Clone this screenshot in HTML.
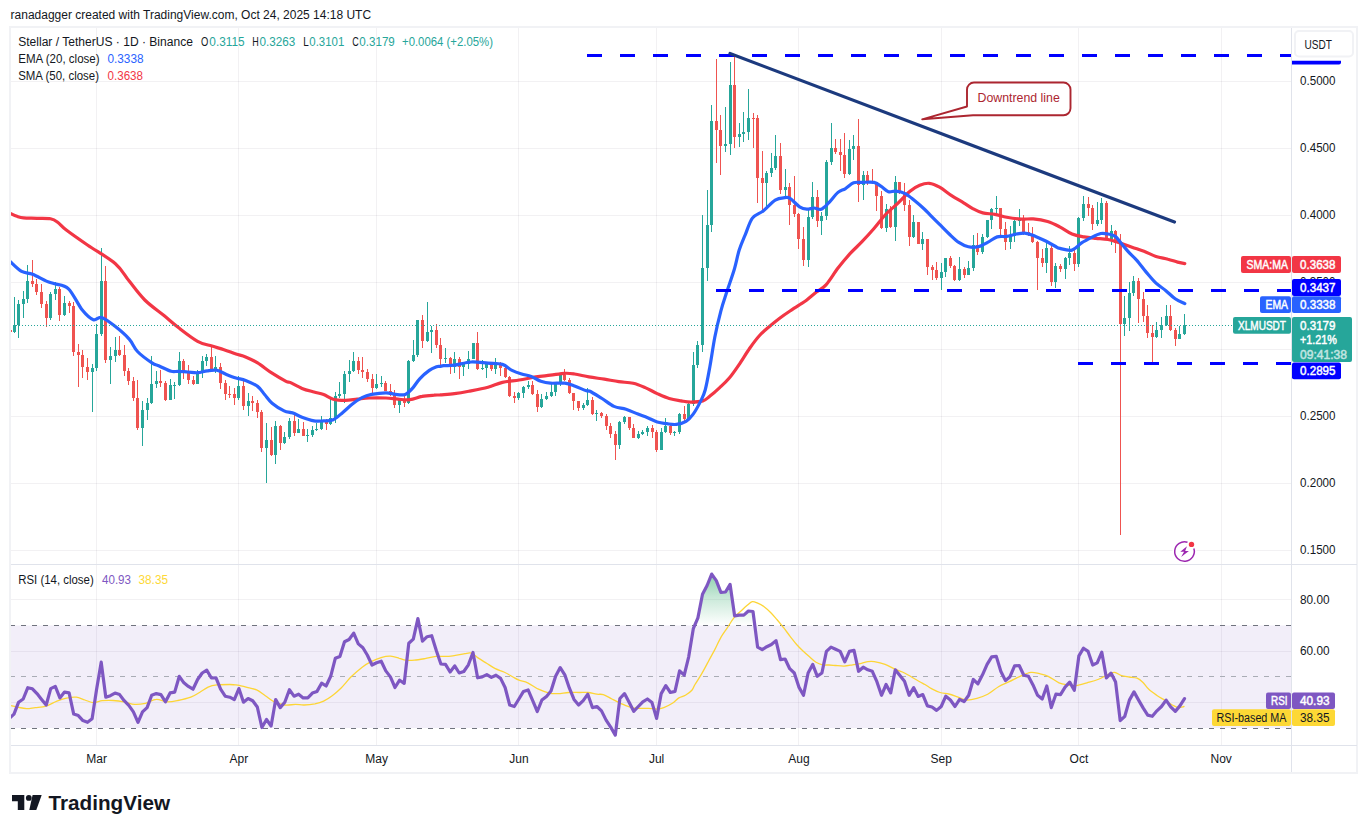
<!DOCTYPE html><html><head><meta charset="utf-8"><title>XLMUSDT</title><style>html,body{margin:0;padding:0;background:#fff}svg{display:block}text{font-family:"Liberation Sans",sans-serif}</style></head><body>
<svg width="1367" height="833" viewBox="0 0 1367 833">
<rect width="1367" height="833" fill="#fff"/>
<g stroke="#3c3250" stroke-opacity="0.065" stroke-width="1" shape-rendering="crispEdges">
<line x1="96.5" y1="28" x2="96.5" y2="745"/>
<line x1="238.5" y1="28" x2="238.5" y2="745"/>
<line x1="376.5" y1="28" x2="376.5" y2="745"/>
<line x1="518.5" y1="28" x2="518.5" y2="745"/>
<line x1="656.5" y1="28" x2="656.5" y2="745"/>
<line x1="798.5" y1="28" x2="798.5" y2="745"/>
<line x1="941.5" y1="28" x2="941.5" y2="745"/>
<line x1="1078.5" y1="28" x2="1078.5" y2="745"/>
<line x1="1221.5" y1="28" x2="1221.5" y2="745"/>
<line x1="11" y1="81.5" x2="1291" y2="81.5"/>
<line x1="11" y1="148.5" x2="1291" y2="148.5"/>
<line x1="11" y1="215.5" x2="1291" y2="215.5"/>
<line x1="11" y1="282.5" x2="1291" y2="282.5"/>
<line x1="11" y1="349.5" x2="1291" y2="349.5"/>
<line x1="11" y1="416.5" x2="1291" y2="416.5"/>
<line x1="11" y1="483.5" x2="1291" y2="483.5"/>
<line x1="11" y1="550.5" x2="1291" y2="550.5"/>
<line x1="11" y1="599.5" x2="1291" y2="599.5"/>
<line x1="11" y1="651.5" x2="1291" y2="651.5"/>
<line x1="11" y1="702.5" x2="1291" y2="702.5"/>
</g>
<rect x="11" y="625.5" width="1280.5" height="102.5" fill="#7e57c2" fill-opacity="0.1"/>
<g stroke-width="1" stroke-dasharray="5 6" stroke-dashoffset="1.2" shape-rendering="crispEdges">
<line x1="11" y1="625.5" x2="1291" y2="625.5" stroke="#70737e"/>
<line x1="11" y1="676.5" x2="1291" y2="676.5" stroke="#a9acb5"/>
<line x1="11" y1="728.5" x2="1291" y2="728.5" stroke="#70737e"/>
</g>
<g stroke="#e0e3eb" stroke-width="1" fill="none" shape-rendering="crispEdges">
<rect x="10" y="27" width="1347" height="746" stroke="#f1f2f5" stroke-width="2"/>
<line x1="11" y1="564.5" x2="1357" y2="564.5"/>
<line x1="11" y1="745.5" x2="1357" y2="745.5"/>
<line x1="1291.5" y1="28" x2="1291.5" y2="772"/>
</g>
<defs><clipPath id="mp"><rect x="11" y="28" width="1280.5" height="536"/></clipPath><clipPath id="rp"><rect x="11" y="565" width="1280.5" height="180"/></clipPath></defs>
<g clip-path="url(#mp)" shape-rendering="crispEdges">
<rect x="14" y="297" width="1" height="36" fill="#26a69a"/>
<rect x="13" y="325" width="3" height="7" fill="#26a69a"/>
<rect x="18" y="300" width="1" height="38" fill="#26a69a"/>
<rect x="17" y="304" width="3" height="21" fill="#26a69a"/>
<rect x="23" y="291" width="1" height="27" fill="#26a69a"/>
<rect x="22" y="299" width="3" height="5" fill="#26a69a"/>
<rect x="27" y="265" width="1" height="38" fill="#26a69a"/>
<rect x="26" y="281" width="3" height="18" fill="#26a69a"/>
<rect x="32" y="260" width="1" height="27" fill="#ef5350"/>
<rect x="31" y="281" width="3" height="3" fill="#ef5350"/>
<rect x="36" y="279" width="1" height="16" fill="#ef5350"/>
<rect x="35" y="284" width="3" height="8" fill="#ef5350"/>
<rect x="41" y="284" width="1" height="24" fill="#ef5350"/>
<rect x="40" y="292" width="3" height="12" fill="#ef5350"/>
<rect x="46" y="301" width="1" height="26" fill="#ef5350"/>
<rect x="45" y="304" width="3" height="14" fill="#ef5350"/>
<rect x="50" y="292" width="1" height="28" fill="#26a69a"/>
<rect x="49" y="294" width="3" height="24" fill="#26a69a"/>
<rect x="55" y="282" width="1" height="18" fill="#26a69a"/>
<rect x="54" y="289" width="3" height="5" fill="#26a69a"/>
<rect x="59" y="287" width="1" height="34" fill="#ef5350"/>
<rect x="58" y="289" width="3" height="26" fill="#ef5350"/>
<rect x="64" y="296" width="1" height="20" fill="#26a69a"/>
<rect x="63" y="303" width="3" height="12" fill="#26a69a"/>
<rect x="69" y="301" width="1" height="12" fill="#ef5350"/>
<rect x="68" y="303" width="3" height="3" fill="#ef5350"/>
<rect x="73" y="302" width="1" height="54" fill="#ef5350"/>
<rect x="72" y="306" width="3" height="46" fill="#ef5350"/>
<rect x="78" y="344" width="1" height="43" fill="#ef5350"/>
<rect x="77" y="352" width="3" height="3" fill="#ef5350"/>
<rect x="82" y="350" width="1" height="28" fill="#ef5350"/>
<rect x="81" y="355" width="3" height="12" fill="#ef5350"/>
<rect x="87" y="358" width="1" height="22" fill="#ef5350"/>
<rect x="86" y="367" width="3" height="5" fill="#ef5350"/>
<rect x="92" y="364" width="1" height="48" fill="#26a69a"/>
<rect x="91" y="368" width="3" height="4" fill="#26a69a"/>
<rect x="96" y="324" width="1" height="47" fill="#26a69a"/>
<rect x="95" y="334" width="3" height="34" fill="#26a69a"/>
<rect x="101" y="248" width="1" height="88" fill="#26a69a"/>
<rect x="100" y="281" width="3" height="53" fill="#26a69a"/>
<rect x="105" y="266" width="1" height="97" fill="#ef5350"/>
<rect x="104" y="281" width="3" height="79" fill="#ef5350"/>
<rect x="110" y="347" width="1" height="37" fill="#26a69a"/>
<rect x="109" y="356" width="3" height="4" fill="#26a69a"/>
<rect x="115" y="337" width="1" height="25" fill="#26a69a"/>
<rect x="114" y="350" width="3" height="6" fill="#26a69a"/>
<rect x="119" y="336" width="1" height="20" fill="#ef5350"/>
<rect x="118" y="350" width="3" height="5" fill="#ef5350"/>
<rect x="124" y="345" width="1" height="31" fill="#ef5350"/>
<rect x="123" y="355" width="3" height="16" fill="#ef5350"/>
<rect x="128" y="368" width="1" height="17" fill="#ef5350"/>
<rect x="127" y="371" width="3" height="10" fill="#ef5350"/>
<rect x="133" y="377" width="1" height="24" fill="#ef5350"/>
<rect x="132" y="381" width="3" height="17" fill="#ef5350"/>
<rect x="137" y="380" width="1" height="50" fill="#ef5350"/>
<rect x="136" y="398" width="3" height="30" fill="#ef5350"/>
<rect x="142" y="401" width="1" height="45" fill="#26a69a"/>
<rect x="141" y="410" width="3" height="18" fill="#26a69a"/>
<rect x="147" y="398" width="1" height="22" fill="#26a69a"/>
<rect x="146" y="403" width="3" height="7" fill="#26a69a"/>
<rect x="151" y="356" width="1" height="48" fill="#26a69a"/>
<rect x="150" y="384" width="3" height="19" fill="#26a69a"/>
<rect x="156" y="371" width="1" height="17" fill="#26a69a"/>
<rect x="155" y="381" width="3" height="3" fill="#26a69a"/>
<rect x="160" y="370" width="1" height="17" fill="#ef5350"/>
<rect x="159" y="381" width="3" height="2" fill="#ef5350"/>
<rect x="165" y="381" width="1" height="20" fill="#ef5350"/>
<rect x="164" y="383" width="3" height="17" fill="#ef5350"/>
<rect x="170" y="379" width="1" height="21" fill="#26a69a"/>
<rect x="169" y="385" width="3" height="15" fill="#26a69a"/>
<rect x="174" y="382" width="1" height="17" fill="#26a69a"/>
<rect x="173" y="385" width="3" height="1" fill="#26a69a"/>
<rect x="179" y="352" width="1" height="34" fill="#26a69a"/>
<rect x="178" y="361" width="3" height="24" fill="#26a69a"/>
<rect x="183" y="359" width="1" height="20" fill="#ef5350"/>
<rect x="182" y="361" width="3" height="12" fill="#ef5350"/>
<rect x="188" y="365" width="1" height="19" fill="#ef5350"/>
<rect x="187" y="373" width="3" height="7" fill="#ef5350"/>
<rect x="193" y="376" width="1" height="9" fill="#ef5350"/>
<rect x="192" y="380" width="3" height="4" fill="#ef5350"/>
<rect x="197" y="370" width="1" height="14" fill="#26a69a"/>
<rect x="196" y="373" width="3" height="11" fill="#26a69a"/>
<rect x="202" y="356" width="1" height="22" fill="#26a69a"/>
<rect x="201" y="361" width="3" height="12" fill="#26a69a"/>
<rect x="206" y="354" width="1" height="12" fill="#26a69a"/>
<rect x="205" y="357" width="3" height="4" fill="#26a69a"/>
<rect x="211" y="345" width="1" height="26" fill="#ef5350"/>
<rect x="210" y="357" width="3" height="14" fill="#ef5350"/>
<rect x="215" y="356" width="1" height="17" fill="#26a69a"/>
<rect x="214" y="367" width="3" height="4" fill="#26a69a"/>
<rect x="220" y="363" width="1" height="26" fill="#ef5350"/>
<rect x="219" y="367" width="3" height="16" fill="#ef5350"/>
<rect x="225" y="380" width="1" height="20" fill="#ef5350"/>
<rect x="224" y="383" width="3" height="11" fill="#ef5350"/>
<rect x="229" y="386" width="1" height="12" fill="#ef5350"/>
<rect x="228" y="394" width="3" height="1" fill="#ef5350"/>
<rect x="234" y="388" width="1" height="17" fill="#ef5350"/>
<rect x="233" y="394" width="3" height="4" fill="#ef5350"/>
<rect x="238" y="376" width="1" height="24" fill="#26a69a"/>
<rect x="237" y="386" width="3" height="12" fill="#26a69a"/>
<rect x="243" y="378" width="1" height="32" fill="#ef5350"/>
<rect x="242" y="386" width="3" height="20" fill="#ef5350"/>
<rect x="248" y="393" width="1" height="23" fill="#26a69a"/>
<rect x="247" y="401" width="3" height="5" fill="#26a69a"/>
<rect x="252" y="396" width="1" height="15" fill="#ef5350"/>
<rect x="251" y="401" width="3" height="2" fill="#ef5350"/>
<rect x="257" y="400" width="1" height="18" fill="#ef5350"/>
<rect x="256" y="403" width="3" height="9" fill="#ef5350"/>
<rect x="261" y="410" width="1" height="42" fill="#ef5350"/>
<rect x="260" y="412" width="3" height="36" fill="#ef5350"/>
<rect x="266" y="423" width="1" height="60" fill="#26a69a"/>
<rect x="265" y="440" width="3" height="8" fill="#26a69a"/>
<rect x="271" y="427" width="1" height="29" fill="#ef5350"/>
<rect x="270" y="440" width="3" height="15" fill="#ef5350"/>
<rect x="275" y="421" width="1" height="43" fill="#26a69a"/>
<rect x="274" y="426" width="3" height="29" fill="#26a69a"/>
<rect x="280" y="425" width="1" height="25" fill="#ef5350"/>
<rect x="279" y="426" width="3" height="17" fill="#ef5350"/>
<rect x="284" y="432" width="1" height="12" fill="#26a69a"/>
<rect x="283" y="437" width="3" height="6" fill="#26a69a"/>
<rect x="289" y="418" width="1" height="21" fill="#26a69a"/>
<rect x="288" y="421" width="3" height="16" fill="#26a69a"/>
<rect x="294" y="412" width="1" height="24" fill="#ef5350"/>
<rect x="293" y="421" width="3" height="12" fill="#ef5350"/>
<rect x="298" y="419" width="1" height="14" fill="#26a69a"/>
<rect x="297" y="429" width="3" height="4" fill="#26a69a"/>
<rect x="303" y="422" width="1" height="14" fill="#ef5350"/>
<rect x="302" y="429" width="3" height="7" fill="#ef5350"/>
<rect x="307" y="429" width="1" height="13" fill="#26a69a"/>
<rect x="306" y="435" width="3" height="1" fill="#26a69a"/>
<rect x="312" y="426" width="1" height="11" fill="#26a69a"/>
<rect x="311" y="430" width="3" height="5" fill="#26a69a"/>
<rect x="316" y="423" width="1" height="8" fill="#26a69a"/>
<rect x="315" y="429" width="3" height="1" fill="#26a69a"/>
<rect x="321" y="416" width="1" height="14" fill="#26a69a"/>
<rect x="320" y="421" width="3" height="8" fill="#26a69a"/>
<rect x="326" y="419" width="1" height="11" fill="#ef5350"/>
<rect x="325" y="421" width="3" height="3" fill="#ef5350"/>
<rect x="330" y="399" width="1" height="26" fill="#26a69a"/>
<rect x="329" y="418" width="3" height="6" fill="#26a69a"/>
<rect x="335" y="392" width="1" height="31" fill="#26a69a"/>
<rect x="334" y="396" width="3" height="22" fill="#26a69a"/>
<rect x="339" y="382" width="1" height="16" fill="#26a69a"/>
<rect x="338" y="394" width="3" height="2" fill="#26a69a"/>
<rect x="344" y="371" width="1" height="32" fill="#26a69a"/>
<rect x="343" y="374" width="3" height="20" fill="#26a69a"/>
<rect x="349" y="360" width="1" height="22" fill="#26a69a"/>
<rect x="348" y="371" width="3" height="3" fill="#26a69a"/>
<rect x="353" y="352" width="1" height="20" fill="#26a69a"/>
<rect x="352" y="361" width="3" height="10" fill="#26a69a"/>
<rect x="358" y="357" width="1" height="17" fill="#ef5350"/>
<rect x="357" y="361" width="3" height="9" fill="#ef5350"/>
<rect x="362" y="357" width="1" height="21" fill="#ef5350"/>
<rect x="361" y="370" width="3" height="2" fill="#ef5350"/>
<rect x="367" y="369" width="1" height="13" fill="#ef5350"/>
<rect x="366" y="372" width="3" height="7" fill="#ef5350"/>
<rect x="372" y="374" width="1" height="19" fill="#ef5350"/>
<rect x="371" y="379" width="3" height="9" fill="#ef5350"/>
<rect x="376" y="374" width="1" height="15" fill="#26a69a"/>
<rect x="375" y="384" width="3" height="4" fill="#26a69a"/>
<rect x="381" y="376" width="1" height="11" fill="#26a69a"/>
<rect x="380" y="383" width="3" height="1" fill="#26a69a"/>
<rect x="385" y="381" width="1" height="10" fill="#ef5350"/>
<rect x="384" y="383" width="3" height="8" fill="#ef5350"/>
<rect x="390" y="384" width="1" height="12" fill="#ef5350"/>
<rect x="389" y="391" width="3" height="4" fill="#ef5350"/>
<rect x="394" y="390" width="1" height="18" fill="#ef5350"/>
<rect x="393" y="395" width="3" height="10" fill="#ef5350"/>
<rect x="399" y="398" width="1" height="15" fill="#26a69a"/>
<rect x="398" y="399" width="3" height="6" fill="#26a69a"/>
<rect x="404" y="394" width="1" height="13" fill="#ef5350"/>
<rect x="403" y="399" width="3" height="4" fill="#ef5350"/>
<rect x="408" y="360" width="1" height="44" fill="#26a69a"/>
<rect x="407" y="361" width="3" height="42" fill="#26a69a"/>
<rect x="413" y="340" width="1" height="22" fill="#26a69a"/>
<rect x="412" y="355" width="3" height="6" fill="#26a69a"/>
<rect x="417" y="320" width="1" height="37" fill="#26a69a"/>
<rect x="416" y="320" width="3" height="35" fill="#26a69a"/>
<rect x="422" y="315" width="1" height="33" fill="#ef5350"/>
<rect x="421" y="320" width="3" height="21" fill="#ef5350"/>
<rect x="427" y="302" width="1" height="40" fill="#26a69a"/>
<rect x="426" y="332" width="3" height="9" fill="#26a69a"/>
<rect x="431" y="326" width="1" height="27" fill="#26a69a"/>
<rect x="430" y="330" width="3" height="2" fill="#26a69a"/>
<rect x="436" y="324" width="1" height="24" fill="#ef5350"/>
<rect x="435" y="330" width="3" height="15" fill="#ef5350"/>
<rect x="440" y="338" width="1" height="28" fill="#ef5350"/>
<rect x="439" y="345" width="3" height="14" fill="#ef5350"/>
<rect x="445" y="348" width="1" height="15" fill="#26a69a"/>
<rect x="444" y="358" width="3" height="1" fill="#26a69a"/>
<rect x="450" y="357" width="1" height="17" fill="#ef5350"/>
<rect x="449" y="358" width="3" height="9" fill="#ef5350"/>
<rect x="454" y="352" width="1" height="21" fill="#26a69a"/>
<rect x="453" y="359" width="3" height="8" fill="#26a69a"/>
<rect x="459" y="357" width="1" height="22" fill="#ef5350"/>
<rect x="458" y="359" width="3" height="8" fill="#ef5350"/>
<rect x="463" y="362" width="1" height="14" fill="#26a69a"/>
<rect x="462" y="364" width="3" height="3" fill="#26a69a"/>
<rect x="468" y="351" width="1" height="18" fill="#26a69a"/>
<rect x="467" y="359" width="3" height="5" fill="#26a69a"/>
<rect x="473" y="343" width="1" height="16" fill="#26a69a"/>
<rect x="472" y="343" width="3" height="16" fill="#26a69a"/>
<rect x="477" y="332" width="1" height="38" fill="#ef5350"/>
<rect x="476" y="343" width="3" height="26" fill="#ef5350"/>
<rect x="482" y="360" width="1" height="10" fill="#26a69a"/>
<rect x="481" y="368" width="3" height="1" fill="#26a69a"/>
<rect x="486" y="362" width="1" height="16" fill="#26a69a"/>
<rect x="485" y="364" width="3" height="4" fill="#26a69a"/>
<rect x="491" y="362" width="1" height="9" fill="#ef5350"/>
<rect x="490" y="364" width="3" height="5" fill="#ef5350"/>
<rect x="495" y="358" width="1" height="16" fill="#26a69a"/>
<rect x="494" y="365" width="3" height="4" fill="#26a69a"/>
<rect x="500" y="362" width="1" height="14" fill="#ef5350"/>
<rect x="499" y="365" width="3" height="3" fill="#ef5350"/>
<rect x="505" y="364" width="1" height="14" fill="#ef5350"/>
<rect x="504" y="368" width="3" height="9" fill="#ef5350"/>
<rect x="509" y="376" width="1" height="21" fill="#ef5350"/>
<rect x="508" y="377" width="3" height="19" fill="#ef5350"/>
<rect x="514" y="392" width="1" height="11" fill="#ef5350"/>
<rect x="513" y="396" width="3" height="2" fill="#ef5350"/>
<rect x="518" y="392" width="1" height="8" fill="#26a69a"/>
<rect x="517" y="393" width="3" height="5" fill="#26a69a"/>
<rect x="523" y="386" width="1" height="12" fill="#26a69a"/>
<rect x="522" y="387" width="3" height="6" fill="#26a69a"/>
<rect x="528" y="381" width="1" height="8" fill="#26a69a"/>
<rect x="527" y="385" width="3" height="2" fill="#26a69a"/>
<rect x="532" y="381" width="1" height="14" fill="#ef5350"/>
<rect x="531" y="385" width="3" height="9" fill="#ef5350"/>
<rect x="537" y="390" width="1" height="22" fill="#ef5350"/>
<rect x="536" y="394" width="3" height="13" fill="#ef5350"/>
<rect x="541" y="394" width="1" height="14" fill="#26a69a"/>
<rect x="540" y="399" width="3" height="8" fill="#26a69a"/>
<rect x="546" y="392" width="1" height="8" fill="#26a69a"/>
<rect x="545" y="396" width="3" height="3" fill="#26a69a"/>
<rect x="551" y="384" width="1" height="13" fill="#26a69a"/>
<rect x="550" y="392" width="3" height="4" fill="#26a69a"/>
<rect x="555" y="382" width="1" height="14" fill="#26a69a"/>
<rect x="554" y="383" width="3" height="9" fill="#26a69a"/>
<rect x="560" y="374" width="1" height="12" fill="#26a69a"/>
<rect x="559" y="375" width="3" height="8" fill="#26a69a"/>
<rect x="564" y="369" width="1" height="12" fill="#ef5350"/>
<rect x="563" y="375" width="3" height="5" fill="#ef5350"/>
<rect x="569" y="378" width="1" height="16" fill="#ef5350"/>
<rect x="568" y="380" width="3" height="13" fill="#ef5350"/>
<rect x="573" y="393" width="1" height="17" fill="#ef5350"/>
<rect x="572" y="393" width="3" height="8" fill="#ef5350"/>
<rect x="578" y="401" width="1" height="10" fill="#ef5350"/>
<rect x="577" y="401" width="3" height="7" fill="#ef5350"/>
<rect x="583" y="403" width="1" height="7" fill="#26a69a"/>
<rect x="582" y="405" width="3" height="3" fill="#26a69a"/>
<rect x="587" y="388" width="1" height="18" fill="#26a69a"/>
<rect x="586" y="400" width="3" height="5" fill="#26a69a"/>
<rect x="592" y="397" width="1" height="18" fill="#ef5350"/>
<rect x="591" y="400" width="3" height="14" fill="#ef5350"/>
<rect x="596" y="410" width="1" height="11" fill="#26a69a"/>
<rect x="595" y="413" width="3" height="1" fill="#26a69a"/>
<rect x="601" y="412" width="1" height="6" fill="#ef5350"/>
<rect x="600" y="413" width="3" height="3" fill="#ef5350"/>
<rect x="606" y="414" width="1" height="16" fill="#ef5350"/>
<rect x="605" y="416" width="3" height="10" fill="#ef5350"/>
<rect x="610" y="423" width="1" height="15" fill="#ef5350"/>
<rect x="609" y="426" width="3" height="8" fill="#ef5350"/>
<rect x="615" y="431" width="1" height="29" fill="#ef5350"/>
<rect x="614" y="434" width="3" height="11" fill="#ef5350"/>
<rect x="619" y="421" width="1" height="28" fill="#26a69a"/>
<rect x="618" y="422" width="3" height="23" fill="#26a69a"/>
<rect x="624" y="416" width="1" height="8" fill="#26a69a"/>
<rect x="623" y="417" width="3" height="5" fill="#26a69a"/>
<rect x="629" y="417" width="1" height="13" fill="#ef5350"/>
<rect x="628" y="417" width="3" height="11" fill="#ef5350"/>
<rect x="633" y="424" width="1" height="14" fill="#ef5350"/>
<rect x="632" y="428" width="3" height="10" fill="#ef5350"/>
<rect x="638" y="431" width="1" height="8" fill="#26a69a"/>
<rect x="637" y="434" width="3" height="4" fill="#26a69a"/>
<rect x="642" y="430" width="1" height="5" fill="#26a69a"/>
<rect x="641" y="432" width="3" height="2" fill="#26a69a"/>
<rect x="647" y="426" width="1" height="10" fill="#26a69a"/>
<rect x="646" y="428" width="3" height="4" fill="#26a69a"/>
<rect x="652" y="425" width="1" height="13" fill="#ef5350"/>
<rect x="651" y="428" width="3" height="4" fill="#ef5350"/>
<rect x="656" y="430" width="1" height="22" fill="#ef5350"/>
<rect x="655" y="432" width="3" height="18" fill="#ef5350"/>
<rect x="661" y="428" width="1" height="22" fill="#26a69a"/>
<rect x="660" y="432" width="3" height="18" fill="#26a69a"/>
<rect x="665" y="418" width="1" height="15" fill="#26a69a"/>
<rect x="664" y="426" width="3" height="6" fill="#26a69a"/>
<rect x="670" y="424" width="1" height="11" fill="#ef5350"/>
<rect x="669" y="426" width="3" height="7" fill="#ef5350"/>
<rect x="674" y="431" width="1" height="5" fill="#26a69a"/>
<rect x="673" y="432" width="3" height="1" fill="#26a69a"/>
<rect x="679" y="413" width="1" height="21" fill="#26a69a"/>
<rect x="678" y="414" width="3" height="18" fill="#26a69a"/>
<rect x="684" y="406" width="1" height="15" fill="#ef5350"/>
<rect x="683" y="414" width="3" height="5" fill="#ef5350"/>
<rect x="688" y="403" width="1" height="17" fill="#26a69a"/>
<rect x="687" y="404" width="3" height="15" fill="#26a69a"/>
<rect x="693" y="352" width="1" height="54" fill="#26a69a"/>
<rect x="692" y="365" width="3" height="39" fill="#26a69a"/>
<rect x="697" y="341" width="1" height="27" fill="#26a69a"/>
<rect x="696" y="345" width="3" height="20" fill="#26a69a"/>
<rect x="702" y="215" width="1" height="137" fill="#26a69a"/>
<rect x="701" y="268" width="3" height="77" fill="#26a69a"/>
<rect x="707" y="190" width="1" height="91" fill="#26a69a"/>
<rect x="706" y="225" width="3" height="43" fill="#26a69a"/>
<rect x="711" y="105" width="1" height="127" fill="#26a69a"/>
<rect x="710" y="121" width="3" height="104" fill="#26a69a"/>
<rect x="716" y="59" width="1" height="104" fill="#ef5350"/>
<rect x="715" y="121" width="3" height="9" fill="#ef5350"/>
<rect x="720" y="115" width="1" height="60" fill="#ef5350"/>
<rect x="719" y="130" width="3" height="16" fill="#ef5350"/>
<rect x="725" y="107" width="1" height="45" fill="#26a69a"/>
<rect x="724" y="144" width="3" height="2" fill="#26a69a"/>
<rect x="730" y="62" width="1" height="93" fill="#26a69a"/>
<rect x="729" y="85" width="3" height="59" fill="#26a69a"/>
<rect x="734" y="54" width="1" height="94" fill="#ef5350"/>
<rect x="733" y="85" width="3" height="52" fill="#ef5350"/>
<rect x="739" y="123" width="1" height="24" fill="#26a69a"/>
<rect x="738" y="134" width="3" height="3" fill="#26a69a"/>
<rect x="743" y="112" width="1" height="30" fill="#26a69a"/>
<rect x="742" y="132" width="3" height="2" fill="#26a69a"/>
<rect x="748" y="89" width="1" height="51" fill="#26a69a"/>
<rect x="747" y="118" width="3" height="14" fill="#26a69a"/>
<rect x="753" y="113" width="1" height="35" fill="#ef5350"/>
<rect x="752" y="118" width="3" height="1" fill="#ef5350"/>
<rect x="757" y="115" width="1" height="88" fill="#ef5350"/>
<rect x="756" y="118" width="3" height="60" fill="#ef5350"/>
<rect x="762" y="151" width="1" height="62" fill="#ef5350"/>
<rect x="761" y="178" width="3" height="5" fill="#ef5350"/>
<rect x="766" y="171" width="1" height="37" fill="#26a69a"/>
<rect x="765" y="173" width="3" height="10" fill="#26a69a"/>
<rect x="771" y="153" width="1" height="24" fill="#26a69a"/>
<rect x="770" y="168" width="3" height="5" fill="#26a69a"/>
<rect x="775" y="135" width="1" height="35" fill="#26a69a"/>
<rect x="774" y="156" width="3" height="12" fill="#26a69a"/>
<rect x="780" y="143" width="1" height="51" fill="#ef5350"/>
<rect x="779" y="156" width="3" height="34" fill="#ef5350"/>
<rect x="785" y="169" width="1" height="29" fill="#26a69a"/>
<rect x="784" y="187" width="3" height="3" fill="#26a69a"/>
<rect x="789" y="183" width="1" height="42" fill="#ef5350"/>
<rect x="788" y="187" width="3" height="18" fill="#ef5350"/>
<rect x="794" y="176" width="1" height="41" fill="#ef5350"/>
<rect x="793" y="205" width="3" height="9" fill="#ef5350"/>
<rect x="798" y="213" width="1" height="36" fill="#ef5350"/>
<rect x="797" y="214" width="3" height="25" fill="#ef5350"/>
<rect x="803" y="227" width="1" height="39" fill="#ef5350"/>
<rect x="802" y="239" width="3" height="21" fill="#ef5350"/>
<rect x="808" y="210" width="1" height="57" fill="#26a69a"/>
<rect x="807" y="217" width="3" height="43" fill="#26a69a"/>
<rect x="812" y="182" width="1" height="37" fill="#26a69a"/>
<rect x="811" y="197" width="3" height="20" fill="#26a69a"/>
<rect x="817" y="190" width="1" height="37" fill="#ef5350"/>
<rect x="816" y="197" width="3" height="24" fill="#ef5350"/>
<rect x="821" y="212" width="1" height="23" fill="#26a69a"/>
<rect x="820" y="216" width="3" height="5" fill="#26a69a"/>
<rect x="826" y="160" width="1" height="60" fill="#26a69a"/>
<rect x="825" y="162" width="3" height="54" fill="#26a69a"/>
<rect x="831" y="123" width="1" height="42" fill="#26a69a"/>
<rect x="830" y="148" width="3" height="14" fill="#26a69a"/>
<rect x="835" y="139" width="1" height="15" fill="#ef5350"/>
<rect x="834" y="148" width="3" height="4" fill="#ef5350"/>
<rect x="840" y="139" width="1" height="32" fill="#ef5350"/>
<rect x="839" y="152" width="3" height="3" fill="#ef5350"/>
<rect x="844" y="133" width="1" height="45" fill="#ef5350"/>
<rect x="843" y="155" width="3" height="19" fill="#ef5350"/>
<rect x="849" y="140" width="1" height="35" fill="#26a69a"/>
<rect x="848" y="149" width="3" height="25" fill="#26a69a"/>
<rect x="853" y="135" width="1" height="25" fill="#26a69a"/>
<rect x="852" y="146" width="3" height="3" fill="#26a69a"/>
<rect x="858" y="119" width="1" height="83" fill="#ef5350"/>
<rect x="857" y="146" width="3" height="39" fill="#ef5350"/>
<rect x="863" y="171" width="1" height="29" fill="#26a69a"/>
<rect x="862" y="175" width="3" height="10" fill="#26a69a"/>
<rect x="867" y="171" width="1" height="14" fill="#ef5350"/>
<rect x="866" y="175" width="3" height="6" fill="#ef5350"/>
<rect x="872" y="169" width="1" height="15" fill="#ef5350"/>
<rect x="871" y="181" width="3" height="1" fill="#ef5350"/>
<rect x="876" y="182" width="1" height="29" fill="#ef5350"/>
<rect x="875" y="182" width="3" height="14" fill="#ef5350"/>
<rect x="881" y="191" width="1" height="38" fill="#ef5350"/>
<rect x="880" y="196" width="3" height="32" fill="#ef5350"/>
<rect x="886" y="204" width="1" height="28" fill="#26a69a"/>
<rect x="885" y="209" width="3" height="19" fill="#26a69a"/>
<rect x="890" y="206" width="1" height="22" fill="#ef5350"/>
<rect x="889" y="209" width="3" height="18" fill="#ef5350"/>
<rect x="895" y="176" width="1" height="65" fill="#26a69a"/>
<rect x="894" y="182" width="3" height="45" fill="#26a69a"/>
<rect x="899" y="182" width="1" height="12" fill="#ef5350"/>
<rect x="898" y="182" width="3" height="11" fill="#ef5350"/>
<rect x="904" y="183" width="1" height="28" fill="#ef5350"/>
<rect x="903" y="193" width="3" height="12" fill="#ef5350"/>
<rect x="909" y="200" width="1" height="46" fill="#ef5350"/>
<rect x="908" y="205" width="3" height="32" fill="#ef5350"/>
<rect x="913" y="215" width="1" height="23" fill="#26a69a"/>
<rect x="912" y="222" width="3" height="15" fill="#26a69a"/>
<rect x="918" y="222" width="1" height="22" fill="#ef5350"/>
<rect x="917" y="222" width="3" height="22" fill="#ef5350"/>
<rect x="922" y="232" width="1" height="18" fill="#26a69a"/>
<rect x="921" y="239" width="3" height="5" fill="#26a69a"/>
<rect x="927" y="239" width="1" height="36" fill="#ef5350"/>
<rect x="926" y="239" width="3" height="28" fill="#ef5350"/>
<rect x="932" y="265" width="1" height="15" fill="#ef5350"/>
<rect x="931" y="267" width="3" height="3" fill="#ef5350"/>
<rect x="936" y="262" width="1" height="18" fill="#ef5350"/>
<rect x="935" y="270" width="3" height="8" fill="#ef5350"/>
<rect x="941" y="263" width="1" height="27" fill="#26a69a"/>
<rect x="940" y="272" width="3" height="6" fill="#26a69a"/>
<rect x="945" y="258" width="1" height="19" fill="#26a69a"/>
<rect x="944" y="258" width="3" height="14" fill="#26a69a"/>
<rect x="950" y="256" width="1" height="12" fill="#ef5350"/>
<rect x="949" y="258" width="3" height="8" fill="#ef5350"/>
<rect x="954" y="265" width="1" height="16" fill="#ef5350"/>
<rect x="953" y="266" width="3" height="14" fill="#ef5350"/>
<rect x="959" y="257" width="1" height="24" fill="#26a69a"/>
<rect x="958" y="269" width="3" height="11" fill="#26a69a"/>
<rect x="964" y="267" width="1" height="11" fill="#ef5350"/>
<rect x="963" y="269" width="3" height="6" fill="#ef5350"/>
<rect x="968" y="261" width="1" height="14" fill="#26a69a"/>
<rect x="967" y="268" width="3" height="7" fill="#26a69a"/>
<rect x="973" y="235" width="1" height="36" fill="#26a69a"/>
<rect x="972" y="245" width="3" height="23" fill="#26a69a"/>
<rect x="977" y="233" width="1" height="22" fill="#ef5350"/>
<rect x="976" y="245" width="3" height="7" fill="#ef5350"/>
<rect x="982" y="234" width="1" height="20" fill="#26a69a"/>
<rect x="981" y="237" width="3" height="15" fill="#26a69a"/>
<rect x="987" y="220" width="1" height="18" fill="#26a69a"/>
<rect x="986" y="220" width="3" height="17" fill="#26a69a"/>
<rect x="991" y="208" width="1" height="21" fill="#26a69a"/>
<rect x="990" y="209" width="3" height="11" fill="#26a69a"/>
<rect x="996" y="196" width="1" height="19" fill="#26a69a"/>
<rect x="995" y="208" width="3" height="1" fill="#26a69a"/>
<rect x="1000" y="208" width="1" height="28" fill="#ef5350"/>
<rect x="999" y="208" width="3" height="21" fill="#ef5350"/>
<rect x="1005" y="222" width="1" height="28" fill="#ef5350"/>
<rect x="1004" y="229" width="3" height="13" fill="#ef5350"/>
<rect x="1010" y="226" width="1" height="23" fill="#26a69a"/>
<rect x="1009" y="236" width="3" height="6" fill="#26a69a"/>
<rect x="1014" y="217" width="1" height="25" fill="#26a69a"/>
<rect x="1013" y="221" width="3" height="15" fill="#26a69a"/>
<rect x="1019" y="209" width="1" height="17" fill="#26a69a"/>
<rect x="1018" y="219" width="3" height="2" fill="#26a69a"/>
<rect x="1023" y="215" width="1" height="20" fill="#ef5350"/>
<rect x="1022" y="219" width="3" height="13" fill="#ef5350"/>
<rect x="1028" y="223" width="1" height="13" fill="#ef5350"/>
<rect x="1027" y="232" width="3" height="2" fill="#ef5350"/>
<rect x="1032" y="227" width="1" height="16" fill="#ef5350"/>
<rect x="1031" y="234" width="3" height="8" fill="#ef5350"/>
<rect x="1037" y="241" width="1" height="49" fill="#ef5350"/>
<rect x="1036" y="242" width="3" height="16" fill="#ef5350"/>
<rect x="1042" y="249" width="1" height="18" fill="#ef5350"/>
<rect x="1041" y="258" width="3" height="5" fill="#ef5350"/>
<rect x="1046" y="240" width="1" height="33" fill="#26a69a"/>
<rect x="1045" y="248" width="3" height="15" fill="#26a69a"/>
<rect x="1051" y="246" width="1" height="40" fill="#ef5350"/>
<rect x="1050" y="248" width="3" height="34" fill="#ef5350"/>
<rect x="1055" y="263" width="1" height="25" fill="#26a69a"/>
<rect x="1054" y="266" width="3" height="16" fill="#26a69a"/>
<rect x="1060" y="264" width="1" height="8" fill="#ef5350"/>
<rect x="1059" y="266" width="3" height="3" fill="#ef5350"/>
<rect x="1065" y="257" width="1" height="22" fill="#26a69a"/>
<rect x="1064" y="258" width="3" height="11" fill="#26a69a"/>
<rect x="1069" y="246" width="1" height="19" fill="#26a69a"/>
<rect x="1068" y="253" width="3" height="5" fill="#26a69a"/>
<rect x="1074" y="250" width="1" height="21" fill="#ef5350"/>
<rect x="1073" y="253" width="3" height="11" fill="#ef5350"/>
<rect x="1078" y="217" width="1" height="50" fill="#26a69a"/>
<rect x="1077" y="218" width="3" height="46" fill="#26a69a"/>
<rect x="1083" y="196" width="1" height="25" fill="#26a69a"/>
<rect x="1082" y="204" width="3" height="14" fill="#26a69a"/>
<rect x="1088" y="197" width="1" height="19" fill="#ef5350"/>
<rect x="1087" y="204" width="3" height="4" fill="#ef5350"/>
<rect x="1092" y="205" width="1" height="25" fill="#ef5350"/>
<rect x="1091" y="208" width="3" height="16" fill="#ef5350"/>
<rect x="1097" y="202" width="1" height="24" fill="#26a69a"/>
<rect x="1096" y="220" width="3" height="4" fill="#26a69a"/>
<rect x="1101" y="198" width="1" height="26" fill="#26a69a"/>
<rect x="1100" y="203" width="3" height="17" fill="#26a69a"/>
<rect x="1106" y="201" width="1" height="39" fill="#ef5350"/>
<rect x="1105" y="203" width="3" height="36" fill="#ef5350"/>
<rect x="1111" y="225" width="1" height="20" fill="#26a69a"/>
<rect x="1110" y="231" width="3" height="8" fill="#26a69a"/>
<rect x="1115" y="230" width="1" height="23" fill="#ef5350"/>
<rect x="1114" y="231" width="3" height="12" fill="#ef5350"/>
<rect x="1120" y="234" width="1" height="301" fill="#ef5350"/>
<rect x="1119" y="243" width="3" height="81" fill="#ef5350"/>
<rect x="1124" y="296" width="1" height="40" fill="#26a69a"/>
<rect x="1123" y="318" width="3" height="6" fill="#26a69a"/>
<rect x="1129" y="282" width="1" height="49" fill="#26a69a"/>
<rect x="1128" y="293" width="3" height="25" fill="#26a69a"/>
<rect x="1133" y="276" width="1" height="20" fill="#26a69a"/>
<rect x="1132" y="281" width="3" height="12" fill="#26a69a"/>
<rect x="1138" y="278" width="1" height="45" fill="#ef5350"/>
<rect x="1137" y="281" width="3" height="18" fill="#ef5350"/>
<rect x="1143" y="292" width="1" height="30" fill="#ef5350"/>
<rect x="1142" y="299" width="3" height="17" fill="#ef5350"/>
<rect x="1147" y="305" width="1" height="33" fill="#ef5350"/>
<rect x="1146" y="316" width="3" height="17" fill="#ef5350"/>
<rect x="1152" y="325" width="1" height="38" fill="#ef5350"/>
<rect x="1151" y="333" width="3" height="4" fill="#ef5350"/>
<rect x="1156" y="322" width="1" height="16" fill="#26a69a"/>
<rect x="1155" y="330" width="3" height="7" fill="#26a69a"/>
<rect x="1161" y="317" width="1" height="21" fill="#26a69a"/>
<rect x="1160" y="325" width="3" height="5" fill="#26a69a"/>
<rect x="1166" y="305" width="1" height="21" fill="#26a69a"/>
<rect x="1165" y="316" width="3" height="9" fill="#26a69a"/>
<rect x="1170" y="305" width="1" height="26" fill="#ef5350"/>
<rect x="1169" y="316" width="3" height="14" fill="#ef5350"/>
<rect x="1175" y="328" width="1" height="18" fill="#ef5350"/>
<rect x="1174" y="330" width="3" height="9" fill="#ef5350"/>
<rect x="1179" y="326" width="1" height="13" fill="#26a69a"/>
<rect x="1178" y="334" width="3" height="5" fill="#26a69a"/>
<rect x="1184" y="314" width="1" height="21" fill="#26a69a"/>
<rect x="1183" y="325" width="3" height="9" fill="#26a69a"/>
<rect x="10" y="330" width="2" height="2" fill="#ef5350"/>
</g>
<g clip-path="url(#mp)" fill="none" stroke-linejoin="round" stroke-linecap="round">
<path d="M10.5,213.5 C11.6,214.0 14.8,215.6 17.0,216.3 C19.2,217.0 20.2,217.5 23.5,217.8 C26.8,218.1 32.5,218.1 37.0,218.3 C41.5,218.5 47.0,218.1 50.5,218.8 C54.0,219.5 55.4,220.6 58.0,222.5 C60.6,224.4 61.3,226.2 66.3,230.0 C71.3,233.8 79.6,239.6 87.8,245.2 C96.0,250.8 108.5,257.7 115.4,263.7 C122.3,269.7 124.3,275.1 129.2,281.1 C134.1,287.2 139.0,294.2 144.8,300.0 C150.6,305.8 158.4,311.0 164.0,315.6 C169.6,320.2 172.8,323.3 178.4,327.6 C184.0,331.9 192.0,338.2 197.6,341.3 C203.2,344.4 207.6,344.7 212.0,346.1 C216.4,347.5 220.0,348.4 224.0,349.7 C228.0,351.0 232.4,352.8 236.0,354.0 C239.6,355.2 242.0,355.4 245.6,356.9 C249.2,358.4 253.2,360.2 257.6,362.9 C262.0,365.6 267.3,370.1 272.1,373.2 C276.9,376.3 283.5,380.1 286.5,381.6 C289.5,383.1 287.4,381.3 290.0,382.4 C292.6,383.5 298.0,386.8 302.0,388.4 C306.0,390.0 310.4,391.0 314.0,392.0 C317.6,393.0 320.4,393.2 323.6,394.4 C326.8,395.6 329.6,398.2 333.2,399.2 C336.8,400.2 341.2,400.4 345.2,400.4 C349.2,400.4 353.2,399.6 357.2,399.2 C361.2,398.8 364.4,398.2 369.2,398.0 C374.0,397.8 381.2,397.8 386.0,398.0 C390.8,398.2 394.0,398.9 398.0,399.2 C402.0,399.5 406.0,400.2 410.0,399.7 C414.0,399.2 418.1,397.1 422.1,396.4 C426.1,395.6 431.1,395.4 434.1,395.2 C437.1,394.9 436.6,395.1 440.0,394.9 C443.4,394.6 449.6,394.3 454.4,393.7 C459.2,393.1 463.2,392.4 468.8,391.3 C474.4,390.2 482.4,388.7 488.0,387.2 C493.6,385.7 497.2,383.6 502.4,382.4 C507.6,381.2 513.6,380.9 519.2,380.0 C524.8,379.1 530.8,377.7 536.0,376.9 C541.2,376.1 545.6,375.8 550.4,375.2 C555.2,374.6 560.8,373.5 564.8,373.3 C568.8,373.1 570.5,373.4 574.5,374.0 C578.5,374.6 583.9,376.0 588.9,376.9 C593.9,377.8 599.4,378.4 604.4,379.2 C609.4,380.0 614.0,380.9 618.8,381.6 C623.6,382.3 628.8,382.3 633.2,383.3 C637.6,384.3 641.2,385.9 645.2,387.6 C649.2,389.3 653.2,391.8 657.2,393.6 C661.2,395.4 665.2,397.3 669.2,398.5 C673.2,399.7 677.6,400.3 681.2,400.9 C684.8,401.5 687.2,402.1 690.8,402.1 C694.4,402.1 699.6,401.9 702.8,400.9 C706.0,399.9 707.2,398.3 710.0,396.1 C712.8,393.9 716.5,390.6 719.7,387.6 C722.9,384.6 726.1,381.8 729.3,378.0 C732.5,374.2 735.5,369.8 738.9,364.8 C742.3,359.8 746.4,353.0 749.9,348.0 C753.4,343.0 756.6,338.7 760.0,335.0 C763.4,331.3 766.7,328.8 770.0,326.0 C773.3,323.2 776.7,320.5 780.0,318.0 C783.3,315.5 786.7,313.2 790.0,311.0 C793.3,308.8 797.2,306.3 800.0,304.5 C802.8,302.7 804.1,302.1 806.8,300.0 C809.5,297.9 813.2,294.6 816.4,292.1 C819.6,289.6 822.4,288.9 826.0,284.9 C829.6,280.9 834.0,273.3 838.0,268.1 C842.0,262.9 846.0,258.1 850.0,253.7 C854.0,249.3 858.0,245.9 862.0,241.7 C866.0,237.5 870.0,233.1 874.0,228.5 C878.0,223.9 882.0,218.2 886.0,214.0 C890.0,209.8 894.0,207.0 898.0,203.2 C902.0,199.4 906.4,194.2 910.0,191.2 C913.6,188.2 916.5,186.5 919.7,185.2 C922.9,183.9 926.0,183.0 929.3,183.3 C932.6,183.6 935.9,185.1 939.6,187.2 C943.3,189.2 947.6,193.0 951.6,195.6 C955.6,198.2 960.0,200.6 963.6,202.8 C967.2,205.0 970.0,207.1 973.2,208.8 C976.4,210.5 979.2,212.0 982.8,212.9 C986.4,213.8 990.8,213.6 994.8,214.3 C998.8,215.0 1002.4,216.4 1006.8,217.2 C1011.2,218.0 1016.8,218.8 1021.2,219.1 C1025.6,219.4 1028.8,218.5 1033.2,218.9 C1037.6,219.3 1043.2,220.2 1047.6,221.5 C1052.0,222.8 1055.6,224.7 1059.7,226.8 C1063.8,228.9 1068.0,232.3 1072.0,234.0 C1076.0,235.7 1080.0,236.2 1084.0,236.9 C1088.0,237.6 1092.0,237.9 1096.0,238.3 C1100.0,238.7 1104.0,238.7 1108.0,239.5 C1112.0,240.3 1116.0,241.6 1120.0,242.9 C1124.0,244.2 1128.0,245.8 1132.0,247.2 C1136.0,248.6 1140.0,249.8 1144.0,251.3 C1148.0,252.8 1152.0,255.1 1156.0,256.4 C1160.0,257.7 1164.4,258.2 1168.0,259.2 C1171.6,260.1 1174.8,261.4 1177.6,262.1 C1180.4,262.8 1183.6,263.4 1184.8,263.6" stroke="#f23645" stroke-width="3.2"/>
<path d="M10.5,261.8 C12.3,263.4 17.9,269.3 21.6,271.4 C25.3,273.5 28.5,272.6 32.6,274.2 C36.7,275.8 42.7,279.5 46.4,281.1 C50.1,282.7 51.0,282.5 54.7,283.8 C58.4,285.1 63.9,284.4 68.5,288.8 C73.1,293.2 78.2,305.0 82.3,310.1 C86.4,315.2 90.1,318.5 93.3,319.7 C96.5,320.9 97.9,316.4 101.6,317.5 C105.3,318.6 110.8,323.0 115.4,326.6 C120.0,330.2 125.5,335.0 129.2,339.1 C132.9,343.2 133.7,347.5 137.5,351.5 C141.3,355.5 148.4,360.5 152.0,362.9 C155.6,365.3 156.0,364.6 159.2,366.0 C162.4,367.4 168.0,370.4 171.2,371.3 C174.4,372.2 175.6,371.2 178.4,371.3 C181.2,371.4 184.8,371.8 188.0,372.0 C191.2,372.2 194.4,372.9 197.6,372.7 C200.8,372.5 204.0,371.2 207.2,370.8 C210.4,370.4 213.6,369.7 216.8,370.3 C220.0,370.9 223.2,373.1 226.4,374.4 C229.6,375.7 232.8,377.0 236.0,378.0 C239.2,379.0 242.0,379.0 245.6,380.4 C249.2,381.8 254.4,384.0 257.6,386.4 C260.8,388.8 262.4,392.0 264.8,394.8 C267.2,397.6 268.9,400.5 272.1,403.2 C275.3,405.9 281.1,409.4 284.1,410.9 C287.1,412.4 288.4,412.0 290.0,412.4 C291.6,412.8 291.7,412.5 293.7,413.3 C295.7,414.1 298.6,416.0 302.0,417.3 C305.4,418.6 310.4,420.3 314.0,420.9 C317.6,421.5 320.4,421.1 323.6,420.9 C326.8,420.7 330.0,421.1 333.2,419.7 C336.4,418.3 339.6,415.0 342.8,412.4 C346.0,409.8 349.2,406.5 352.4,404.0 C355.6,401.5 358.8,399.2 362.0,397.6 C365.2,396.0 367.6,395.2 371.6,394.4 C375.6,393.6 382.0,392.8 386.0,392.8 C390.0,392.8 392.4,394.1 395.6,394.4 C398.8,394.7 402.4,395.4 405.2,394.4 C408.0,393.4 410.0,391.0 412.4,388.4 C414.8,385.8 416.9,381.8 419.7,378.8 C422.5,375.8 426.5,372.4 429.3,370.4 C432.1,368.4 434.7,367.5 436.5,366.8 C438.3,366.1 438.8,366.6 440.0,366.4 C441.2,366.2 441.3,365.8 443.7,365.6 C446.1,365.4 449.8,365.8 454.4,365.2 C459.0,364.6 465.6,362.3 471.2,362.0 C476.8,361.7 482.8,362.8 488.0,363.2 C493.2,363.6 498.4,363.2 502.4,364.4 C506.4,365.6 508.8,368.8 512.0,370.4 C515.2,372.0 518.4,373.0 521.6,374.0 C524.8,375.0 528.0,375.2 531.2,376.4 C534.4,377.6 537.6,380.1 540.8,381.2 C544.0,382.3 546.4,382.9 550.4,383.2 C554.4,383.5 560.8,382.7 564.8,383.2 C568.8,383.7 570.9,384.7 574.5,386.0 C578.1,387.3 583.9,389.9 586.5,390.8 C589.1,391.7 587.4,389.9 590.0,391.2 C592.6,392.5 598.0,396.0 602.0,398.5 C606.0,401.0 610.0,404.6 614.0,406.4 C618.0,408.2 622.0,408.0 626.0,409.3 C630.0,410.6 634.4,412.7 638.0,414.1 C641.6,415.5 644.4,416.4 647.6,417.7 C650.8,419.0 654.0,421.0 657.2,422.0 C660.4,423.0 663.6,423.3 666.8,423.7 C670.0,424.1 673.2,424.8 676.4,424.4 C679.6,424.0 683.2,423.0 686.0,421.3 C688.8,419.6 690.8,417.4 693.2,414.1 C695.6,410.8 698.4,405.6 700.4,401.6 C702.4,397.6 703.6,395.9 705.2,390.0 C706.8,384.1 708.4,374.8 710.0,366.0 C711.6,357.2 713.0,346.4 714.8,337.2 C716.6,328.0 718.9,318.4 720.9,310.8 C722.9,303.2 724.7,298.4 726.9,291.6 C729.1,284.8 732.0,276.9 734.1,270.0 C736.2,263.1 737.4,255.8 739.2,250.0 C741.1,244.2 743.0,240.2 745.2,234.9 C747.4,229.6 749.4,222.1 752.4,218.1 C755.4,214.1 759.4,213.9 763.2,210.9 C767.0,207.9 771.6,202.3 775.2,200.1 C778.8,197.9 782.3,198.0 784.8,197.7 C787.3,197.4 787.5,196.9 790.0,198.4 C792.5,199.9 796.8,205.0 799.6,206.8 C802.4,208.6 804.4,209.0 806.8,209.2 C809.2,209.4 811.6,208.0 814.0,208.0 C816.4,208.0 818.8,210.0 821.2,209.2 C823.6,208.4 825.6,206.0 828.4,203.2 C831.2,200.4 835.2,194.8 838.0,192.4 C840.8,190.0 842.6,190.4 845.2,188.8 C847.8,187.2 850.8,183.9 853.6,182.8 C856.4,181.7 858.6,182.5 862.0,182.4 C865.4,182.3 870.8,181.7 874.0,182.4 C877.2,183.1 878.8,184.9 881.2,186.4 C883.6,187.9 886.0,190.9 888.4,191.7 C890.8,192.5 892.8,190.9 895.6,191.2 C898.4,191.5 902.0,192.0 905.2,193.6 C908.4,195.2 911.6,198.2 914.8,200.8 C918.0,203.4 922.0,206.9 924.5,209.2 C927.0,211.5 927.5,212.3 930.0,214.8 C932.5,217.3 936.4,221.2 939.6,224.4 C942.8,227.6 946.0,231.0 949.2,234.0 C952.4,237.0 955.6,240.3 958.8,242.4 C962.0,244.5 965.2,246.1 968.4,246.8 C971.6,247.5 974.8,247.5 978.0,246.8 C981.2,246.1 984.4,244.1 987.6,242.4 C990.8,240.8 994.0,237.9 997.2,236.9 C1000.4,235.9 1003.6,236.9 1006.8,236.4 C1010.0,235.9 1013.2,234.5 1016.4,234.0 C1019.6,233.5 1022.8,232.9 1026.0,233.3 C1029.2,233.7 1032.4,235.2 1035.6,236.4 C1038.8,237.7 1042.0,239.2 1045.2,240.8 C1048.4,242.4 1052.3,244.7 1054.8,246.0 C1057.3,247.3 1057.1,247.7 1060.0,248.4 C1062.9,249.1 1068.4,251.0 1072.0,250.1 C1075.6,249.2 1078.4,245.0 1081.6,242.9 C1084.8,240.8 1088.0,239.2 1091.2,237.6 C1094.4,236.0 1098.0,234.1 1100.8,233.5 C1103.6,232.9 1105.6,233.5 1108.0,234.0 C1110.4,234.5 1112.8,234.6 1115.2,236.4 C1117.6,238.2 1120.0,242.0 1122.4,244.8 C1124.8,247.6 1127.2,250.6 1129.6,253.2 C1132.0,255.8 1134.0,257.2 1136.8,260.4 C1139.6,263.6 1143.2,268.6 1146.4,272.4 C1149.6,276.2 1152.8,280.2 1156.0,283.2 C1159.2,286.2 1162.4,287.8 1165.6,290.4 C1168.8,293.0 1172.0,296.6 1175.2,298.8 C1178.4,301.0 1183.2,302.8 1184.8,303.6" stroke="#2962ff" stroke-width="3.2"/>
</g>
<line x1="13" y1="325.5" x2="1233" y2="325.5" stroke="#26a69a" stroke-width="1" stroke-dasharray="1 2" shape-rendering="crispEdges"/>
<g stroke="#0000ff" stroke-width="3" stroke-dasharray="15 18" shape-rendering="crispEdges">
<line x1="586.5" y1="55.5" x2="1291" y2="55.5"/>
<line x1="715.7" y1="290.5" x2="1291" y2="290.5"/>
<line x1="1078" y1="363.5" x2="1291" y2="363.5"/>
</g>
<line x1="730" y1="53.5" x2="1174.5" y2="222" stroke="#1c3a7e" stroke-width="3.2" stroke-linecap="round"/>
<path d="M974,82.5 H1063.5 a7,7 0 0 1 7,7 V108.3 a7,7 0 0 1 -7,7 H973 L922.2,119.3 L967,106.5 V89.5 a7,7 0 0 1 7,-7 Z" fill="#fff" stroke="#ac2630" stroke-width="1.9" stroke-linejoin="round"/>
<text x="977.5" y="102.3" font-size="12" fill="#ac2630" textLength="82.3" lengthAdjust="spacingAndGlyphs">Downtrend line</text>
<defs><linearGradient id="gg" x1="0" y1="573" x2="0" y2="625.5" gradientUnits="userSpaceOnUse"><stop offset="0" stop-color="#45b27a" stop-opacity="0.62"/><stop offset="0.45" stop-color="#45b27a" stop-opacity="0.3"/><stop offset="1" stop-color="#45b27a" stop-opacity="0"/></linearGradient><clipPath id="ob"><rect x="11" y="565" width="1280.5" height="60.5"/></clipPath></defs>
<path d="M693.3,628.7 L697.9,617.9 L702.5,594.2 L707.1,585.5 L711.7,574.1 L716.3,580.6 L720.9,592.4 L725.5,592.0 L730.1,584.4 L734.6,615.8 L739.2,615.1 L743.8,615.1 L748.4,611.0 L753.0,611.5 L757.6,647.1 L762.2,649.7 L762.2,625.5 L693.3,625.5 Z" fill="url(#gg)" clip-path="url(#ob)"/>
<g clip-path="url(#rp)" fill="none" stroke-linejoin="round" stroke-linecap="round">
<path d="M10.4,705.4 C11.7,705.7 15.3,706.7 18.0,707.2 C20.7,707.8 23.7,708.6 26.6,708.7 C29.5,708.8 32.0,708.0 35.3,707.6 C38.5,707.2 42.5,707.2 46.1,706.1 C49.7,705.0 53.3,702.5 56.9,701.1 C60.5,699.7 64.5,698.5 67.7,697.9 C70.9,697.2 73.4,696.9 76.3,697.2 C79.2,697.6 82.0,699.1 84.9,700.0 C87.8,700.9 90.7,702.5 93.6,702.6 C96.5,702.7 99.0,701.1 102.2,700.7 C105.4,700.4 109.4,700.3 113.0,700.5 C116.6,700.7 120.2,701.1 123.8,701.8 C127.4,702.4 131.0,704.1 134.6,704.4 C138.2,704.6 141.8,704.1 145.4,703.3 C149.0,702.5 152.7,699.6 156.3,699.4 C159.9,699.1 163.5,701.6 167.1,701.8 C170.7,702.0 173.9,701.3 177.9,700.5 C181.9,699.7 187.2,698.5 190.8,697.2 C194.4,695.9 196.6,694.2 199.5,692.5 C202.4,690.8 205.2,688.4 208.1,687.1 C211.0,685.8 213.2,685.3 216.8,684.9 C220.4,684.5 226.7,684.5 229.7,684.5 C232.7,684.5 233.4,684.8 235.0,684.9 C236.6,685.0 237.1,684.9 239.3,685.4 C241.5,685.9 245.1,687.0 248.0,687.7 C250.9,688.5 253.7,688.6 256.6,689.9 C259.5,691.2 262.4,693.8 265.3,695.7 C268.2,697.7 270.7,700.1 273.9,701.6 C277.1,703.1 281.1,704.5 284.7,705.0 C288.3,705.5 292.3,704.4 295.5,704.4 C298.7,704.4 300.9,705.1 304.1,705.0 C307.3,704.9 311.6,704.5 314.9,703.9 C318.1,703.2 320.7,702.5 323.6,701.1 C326.5,699.7 329.3,697.9 332.2,695.7 C335.1,693.6 337.6,691.4 340.9,688.2 C344.1,685.0 348.1,679.8 351.7,676.3 C355.3,672.8 359.3,669.5 362.5,667.0 C365.7,664.5 367.9,663.2 371.1,661.6 C374.3,660.0 378.6,658.2 381.9,657.3 C385.1,656.4 387.7,656.0 390.6,656.2 C393.5,656.4 396.7,657.6 399.2,658.3 C401.7,658.9 403.2,659.8 405.7,660.1 C408.2,660.4 411.1,660.4 414.3,660.1 C417.5,659.9 421.5,659.2 425.1,658.6 C428.7,658.0 432.0,656.8 436.0,656.4 C440.0,656.0 444.9,656.7 448.9,656.4 C452.8,656.1 457.0,655.2 459.7,654.7 C462.4,654.2 463.0,653.9 465.0,653.6 C467.0,653.4 469.3,652.5 471.5,653.2 C473.7,653.9 475.5,656.2 478.0,657.9 C480.5,659.6 483.7,661.5 486.6,663.3 C489.5,665.1 492.4,667.2 495.3,668.7 C498.2,670.2 501.0,670.7 503.9,672.0 C506.8,673.3 510.0,675.3 512.5,676.7 C515.0,678.1 516.5,679.2 519.0,680.2 C521.5,681.2 524.5,681.3 527.7,682.8 C531.0,684.3 534.9,687.5 538.5,689.2 C542.1,690.9 546.1,692.4 549.3,693.1 C552.5,693.8 554.7,693.7 557.9,693.6 C561.1,693.5 565.1,692.7 568.7,692.5 C572.3,692.3 576.2,692.5 579.5,692.5 C582.8,692.5 585.3,692.2 588.2,692.5 C591.1,692.8 594.3,693.9 596.8,694.2 C599.3,694.6 600.8,693.8 603.3,694.6 C605.8,695.4 609.0,697.5 611.9,699.0 C614.8,700.5 617.4,701.9 620.6,703.3 C623.9,704.7 628.2,706.8 631.4,707.6 C634.6,708.4 637.1,708.2 640.0,708.3 C642.9,708.4 645.8,708.2 648.7,708.3 C651.6,708.4 654.8,709.2 657.3,709.1 C659.8,709.0 661.3,708.6 663.8,707.6 C666.3,706.6 669.9,704.9 672.4,703.3 C674.9,701.7 676.7,699.2 678.9,697.9 C681.1,696.6 683.2,696.6 685.4,695.3 C687.6,694.0 690.3,692.1 691.9,690.3 C693.5,688.5 693.4,687.2 695.0,684.5 C696.6,681.8 699.3,677.8 701.5,674.1 C703.7,670.4 705.9,666.2 708.0,662.2 C710.1,658.2 712.2,654.5 714.4,650.4 C716.5,646.3 718.7,641.2 720.9,637.4 C723.1,633.6 725.2,631.0 727.4,627.7 C729.6,624.5 731.7,620.6 733.9,617.9 C736.1,615.2 738.2,613.5 740.4,611.5 C742.6,609.5 744.9,607.2 746.9,605.6 C748.9,604.0 750.5,602.1 752.3,601.7 C754.1,601.3 755.7,602.4 757.7,603.2 C759.7,604.0 762.0,605.2 764.1,606.7 C766.2,608.2 768.4,610.3 770.6,612.5 C772.8,614.7 774.9,617.2 777.1,619.7 C779.3,622.2 781.4,624.9 783.6,627.7 C785.8,630.5 787.9,633.5 790.1,636.3 C792.3,639.1 794.5,642.0 796.6,644.5 C798.8,647.0 800.9,649.0 803.0,651.0 C805.1,653.0 807.3,654.9 809.5,656.8 C811.7,658.7 813.8,660.9 816.0,662.2 C818.2,663.5 820.3,664.3 822.5,664.8 C824.7,665.3 826.9,664.9 829.0,665.0 C831.1,665.1 832.9,665.3 835.4,665.5 C837.9,665.7 841.2,666.2 844.1,666.1 C847.0,666.0 849.8,665.3 852.7,664.8 C855.6,664.3 858.9,663.8 861.4,663.3 C863.9,662.8 865.8,661.9 867.9,661.6 C870.0,661.3 871.4,661.1 874.3,661.6 C877.2,662.1 881.9,663.2 885.1,664.4 C888.4,665.6 890.9,667.4 893.8,668.7 C896.7,670.0 899.5,670.7 902.4,672.0 C905.3,673.3 908.2,675.1 911.1,676.7 C914.0,678.3 917.4,680.4 919.7,681.7 C922.0,683.0 923.0,683.4 925.0,684.5 C927.0,685.6 929.0,687.3 931.5,688.6 C934.0,689.9 937.2,691.6 940.1,692.5 C943.0,693.4 945.9,693.3 948.8,694.0 C951.7,694.7 954.5,695.8 957.4,696.8 C960.3,697.8 962.9,699.8 966.1,700.0 C969.4,700.2 973.3,699.3 976.9,698.3 C980.5,697.3 984.1,696.1 987.7,694.2 C991.3,692.3 994.9,688.8 998.5,686.7 C1002.1,684.6 1005.7,683.4 1009.3,681.7 C1012.9,680.0 1016.5,677.8 1020.1,676.3 C1023.7,674.8 1027.7,672.8 1030.9,672.4 C1034.1,672.0 1036.6,673.1 1039.5,673.7 C1042.4,674.4 1045.0,674.8 1048.2,676.3 C1051.5,677.8 1055.8,681.4 1059.0,682.8 C1062.2,684.2 1064.7,684.4 1067.6,684.9 C1070.5,685.4 1073.0,686.0 1076.3,685.6 C1079.5,685.2 1083.5,683.8 1087.1,682.8 C1090.7,681.8 1094.5,680.9 1097.9,679.5 C1101.4,678.1 1105.0,675.9 1107.8,674.7 C1110.6,673.5 1112.3,672.1 1114.6,672.3 C1116.9,672.5 1119.0,674.9 1121.5,675.7 C1124.0,676.5 1126.7,676.6 1129.3,677.0 C1131.9,677.4 1134.8,677.3 1137.1,678.2 C1139.4,679.1 1141.0,680.6 1143.0,682.5 C1145.0,684.4 1146.5,687.2 1148.8,689.3 C1151.1,691.4 1154.0,693.4 1156.6,695.2 C1159.2,697.0 1161.9,698.5 1164.5,700.1 C1167.1,701.7 1170.0,703.8 1172.3,705.0 C1174.6,706.2 1176.1,707.2 1178.1,707.5 C1180.0,707.8 1183.0,706.7 1184.0,706.5" stroke="#fdd536" stroke-width="1.3"/>
<path d="M9.4,718.4 L14.0,714.1 L18.6,702.2 L23.2,699.0 L27.8,687.7 L32.4,688.8 L37.0,693.6 L41.6,699.4 L46.2,705.0 L50.7,688.6 L55.3,686.4 L59.9,697.9 L64.5,692.1 L69.1,692.9 L73.7,714.1 L78.3,715.6 L82.9,720.6 L87.5,722.3 L92.1,718.8 L96.6,689.2 L101.2,662.2 L105.8,697.2 L110.4,695.7 L115.0,693.1 L119.6,694.6 L124.2,700.7 L128.8,705.4 L133.4,711.9 L138.0,722.3 L142.5,711.9 L147.1,707.6 L151.7,695.3 L156.3,693.6 L160.9,694.6 L165.5,701.8 L170.1,692.9 L174.7,692.1 L179.3,676.3 L183.9,682.8 L188.4,686.4 L193.0,689.2 L197.6,679.5 L202.2,673.0 L206.8,670.2 L211.4,678.0 L216.0,677.8 L220.6,689.2 L225.2,696.2 L229.8,697.2 L234.3,699.6 L238.9,688.6 L243.5,702.2 L248.1,698.5 L252.7,700.7 L257.3,707.0 L261.9,727.5 L266.5,719.5 L271.1,726.0 L275.7,699.6 L280.2,707.6 L284.8,702.2 L289.4,689.7 L294.0,696.2 L298.6,694.2 L303.2,697.9 L307.8,697.9 L312.4,693.1 L317.0,691.4 L321.6,683.2 L326.1,686.0 L330.7,676.3 L335.3,658.3 L339.9,656.4 L344.5,641.7 L349.1,639.5 L353.7,633.1 L358.3,643.9 L362.9,647.8 L367.4,655.3 L372.0,665.0 L376.6,662.7 L381.2,661.2 L385.8,670.9 L390.4,676.9 L395.0,687.5 L399.6,680.2 L404.2,683.4 L408.8,643.2 L413.3,639.1 L417.9,618.6 L422.5,641.1 L427.1,636.7 L431.7,635.7 L436.3,650.4 L440.9,664.0 L445.5,664.4 L450.1,672.0 L454.7,665.9 L459.2,673.0 L463.8,671.5 L468.4,664.8 L473.0,652.5 L477.6,677.8 L482.2,676.9 L486.8,674.6 L491.4,677.4 L496.0,675.2 L500.6,678.4 L505.1,687.5 L509.7,705.0 L514.3,706.5 L518.9,699.0 L523.5,691.4 L528.1,689.9 L532.7,700.7 L537.3,711.5 L541.9,700.0 L546.5,696.4 L551.0,691.0 L555.6,676.3 L560.2,667.6 L564.8,674.8 L569.4,688.2 L574.0,699.4 L578.6,705.0 L583.2,700.7 L587.8,694.2 L592.4,707.6 L596.9,706.5 L601.5,710.9 L606.1,720.1 L610.7,727.1 L615.3,735.1 L619.9,698.5 L624.5,693.6 L629.1,702.2 L633.7,711.3 L638.3,706.5 L642.8,701.8 L647.4,699.0 L652.0,702.6 L656.6,718.4 L661.2,693.6 L665.8,685.6 L670.4,692.5 L675.0,691.4 L679.6,670.9 L684.2,675.2 L688.7,656.8 L693.3,628.7 L697.9,617.9 L702.5,594.2 L707.1,585.5 L711.7,574.1 L716.3,580.6 L720.9,592.4 L725.5,592.0 L730.1,584.4 L734.6,615.8 L739.2,615.1 L743.8,615.1 L748.4,611.0 L753.0,611.5 L757.6,647.1 L762.2,649.7 L766.8,646.7 L771.4,644.5 L776.0,640.6 L780.5,659.6 L785.1,659.0 L789.7,668.7 L794.3,673.0 L798.9,687.1 L803.5,695.3 L808.1,673.0 L812.7,664.4 L817.3,676.3 L821.9,673.0 L826.4,651.4 L831.0,647.1 L835.6,649.3 L840.2,651.4 L844.8,661.8 L849.4,651.4 L854.0,650.4 L858.6,671.3 L863.2,667.2 L867.8,669.8 L872.3,671.3 L876.9,681.7 L881.5,695.3 L886.1,684.5 L890.7,692.9 L895.3,669.8 L899.9,675.6 L904.5,681.2 L909.1,695.3 L913.7,687.7 L918.2,696.4 L922.8,694.6 L927.4,705.9 L932.0,707.0 L936.6,710.4 L941.2,706.5 L945.8,696.2 L950.4,700.0 L955.0,706.5 L959.6,699.4 L964.1,701.6 L968.7,695.3 L973.3,679.5 L977.9,683.8 L982.5,674.8 L987.1,664.4 L991.7,656.8 L996.3,656.4 L1000.9,671.5 L1005.5,680.6 L1010.0,676.7 L1014.6,665.9 L1019.2,665.5 L1023.8,675.2 L1028.4,676.3 L1033.0,684.9 L1037.6,695.3 L1042.2,699.0 L1046.8,686.0 L1051.3,707.6 L1055.9,694.2 L1060.5,694.6 L1065.1,687.1 L1069.7,682.1 L1074.3,690.3 L1078.9,655.8 L1083.5,648.2 L1088.1,651.4 L1092.7,665.0 L1097.2,662.9 L1101.8,652.2 L1106.4,678.0 L1111.0,673.1 L1115.6,682.1 L1120.2,720.6 L1124.8,716.3 L1129.4,700.1 L1134.0,691.9 L1138.6,700.1 L1143.1,707.9 L1147.7,715.1 L1152.3,716.3 L1156.9,710.8 L1161.5,706.5 L1166.1,700.1 L1170.7,706.9 L1175.3,711.4 L1179.9,705.9 L1184.5,698.7" stroke="#7e57c2" stroke-width="3.2"/>
</g>
<g font-size="12" fill="#131722">
<text x="1300" y="85.0" textLength="35.5" lengthAdjust="spacingAndGlyphs">0.5000</text>
<text x="1300" y="152.0" textLength="35.5" lengthAdjust="spacingAndGlyphs">0.4500</text>
<text x="1300" y="219.0" textLength="35.5" lengthAdjust="spacingAndGlyphs">0.4000</text>
<text x="1300" y="286.0" textLength="35.5" lengthAdjust="spacingAndGlyphs">0.3500</text>
<text x="1300" y="420.0" textLength="35.5" lengthAdjust="spacingAndGlyphs">0.2500</text>
<text x="1300" y="487.0" textLength="35.5" lengthAdjust="spacingAndGlyphs">0.2000</text>
<text x="1300" y="554.0" textLength="35.5" lengthAdjust="spacingAndGlyphs">0.1500</text>
<text x="1300" y="604.3" textLength="29.5" lengthAdjust="spacingAndGlyphs">80.00</text>
<text x="1300" y="655.2" textLength="29.5" lengthAdjust="spacingAndGlyphs">60.00</text>
<text x="96.6" y="763.3" text-anchor="middle">Mar</text>
<text x="238.9" y="763.3" text-anchor="middle">Apr</text>
<text x="376.6" y="763.3" text-anchor="middle">May</text>
<text x="518.9" y="763.3" text-anchor="middle">Jun</text>
<text x="656.6" y="763.3" text-anchor="middle">Jul</text>
<text x="798.9" y="763.3" text-anchor="middle">Aug</text>
<text x="941.2" y="763.3" text-anchor="middle">Sep</text>
<text x="1078.9" y="763.3" text-anchor="middle">Oct</text>
<text x="1221.2" y="763.3" text-anchor="middle">Nov</text>
</g>
<rect x="1241" y="256" width="50" height="17" rx="2" fill="#f23645"/>
<rect x="1292" y="256" width="49" height="17" rx="2" fill="#f23645"/>
<rect x="1292" y="279" width="49" height="17" rx="2" fill="#0000ff"/>
<rect x="1260" y="296.3" width="31" height="16.7" rx="2" fill="#2962ff"/>
<rect x="1292" y="296.3" width="49" height="16.7" rx="2" fill="#2962ff"/>
<rect x="1233" y="317" width="58" height="16.7" rx="2" fill="#26a69a"/>
<rect x="1292" y="317" width="60" height="45" rx="2" fill="#26a69a"/>
<rect x="1292" y="362.5" width="49" height="16.7" rx="2" fill="#0000ff"/>
<path d="M1292,60.7 H1341 V62.5 a2,2 0 0 1 -2,2 H1292 Z" fill="#0000ff"/>
<rect x="1295" y="31" width="58" height="25.5" rx="4" fill="#fff" stroke="#f1f2f5" stroke-width="2"/>
<text x="1304.5" y="49" font-size="12" fill="#131722" textLength="27.5" lengthAdjust="spacingAndGlyphs">USDT</text>
<g font-size="12" fill="#fff" stroke="#fff" stroke-width="0.45">
<text x="1246.5" y="269.0" textLength="41.5" lengthAdjust="spacingAndGlyphs">SMA:MA</text>
<text x="1300.0" y="269.0" textLength="35.5" lengthAdjust="spacingAndGlyphs">0.3638</text>
<text x="1300.0" y="292.0" textLength="35.5" lengthAdjust="spacingAndGlyphs">0.3437</text>
<text x="1265.5" y="309.0" textLength="22.5" lengthAdjust="spacingAndGlyphs">EMA</text>
<text x="1300.0" y="309.0" textLength="35.5" lengthAdjust="spacingAndGlyphs">0.3338</text>
<text x="1238.0" y="330.0" textLength="48.0" lengthAdjust="spacingAndGlyphs">XLMUSDT</text>
<text x="1300.0" y="330.0" textLength="35.5" lengthAdjust="spacingAndGlyphs">0.3179</text>
<text x="1300.0" y="344.3" textLength="37.0" lengthAdjust="spacingAndGlyphs">+1.21%</text>
<text x="1300.0" y="358.5" textLength="47.0" lengthAdjust="spacingAndGlyphs" opacity="0.72">09:41:38</text>
<text x="1300.0" y="375.3" textLength="35.5" lengthAdjust="spacingAndGlyphs">0.2895</text>
</g>
<rect x="1266" y="692.5" width="25" height="16.5" rx="2" fill="#7e57c2"/>
<rect x="1292" y="692.5" width="43" height="16.5" rx="2" fill="#7e57c2"/>
<rect x="1212" y="709.3" width="79" height="16.7" rx="2" fill="#fdd835"/>
<rect x="1292" y="709.3" width="43" height="16.7" rx="2" fill="#fdd835"/>
<g font-size="12" fill="#fff" stroke="#fff" stroke-width="0.45">
<text x="1271.0" y="705.2" textLength="16.5" lengthAdjust="spacingAndGlyphs">RSI</text>
<text x="1300.0" y="705.2" textLength="29.5" lengthAdjust="spacingAndGlyphs">40.93</text>
</g>
<g font-size="12" fill="#131722">
<text x="1216.5" y="722.0" textLength="70.0" lengthAdjust="spacingAndGlyphs">RSI-based MA</text>
<text x="1300.0" y="722.0" textLength="29.5" lengthAdjust="spacingAndGlyphs">38.35</text>
</g>
<g font-size="12" fill="#131722">
<text x="18.2" y="45.9" textLength="174.7" lengthAdjust="spacingAndGlyphs">Stellar / TetherUS · 1D · Binance</text>
<text x="201.1" y="45.9" textLength="7.3" lengthAdjust="spacingAndGlyphs">O</text>
<text x="252.3" y="45.9" textLength="6.5" lengthAdjust="spacingAndGlyphs">H</text>
<text x="303.3" y="45.9" textLength="5.5" lengthAdjust="spacingAndGlyphs">L</text>
<text x="352.3" y="45.9" textLength="6.5" lengthAdjust="spacingAndGlyphs">C</text>
<text x="18.2" y="62.7" textLength="81.4" lengthAdjust="spacingAndGlyphs">EMA (20, close)</text>
<text x="18.2" y="79.6" textLength="80.8" lengthAdjust="spacingAndGlyphs">SMA (50, close)</text>
<text x="18.2" y="583.7" textLength="75.5" lengthAdjust="spacingAndGlyphs">RSI (14, close)</text>
</g>
<g font-size="12" fill="#26a69a">
<text x="209.3" y="45.9" textLength="35.3" lengthAdjust="spacingAndGlyphs">0.3115</text>
<text x="259.5" y="45.9" textLength="35.8" lengthAdjust="spacingAndGlyphs">0.3263</text>
<text x="309.3" y="45.9" textLength="35.0" lengthAdjust="spacingAndGlyphs">0.3101</text>
<text x="359.3" y="45.9" textLength="35.5" lengthAdjust="spacingAndGlyphs">0.3179</text>
<text x="402.0" y="45.9" textLength="91.0" lengthAdjust="spacingAndGlyphs">+0.0064 (+2.05%)</text>
</g>
<text x="107.5" y="62.7" textLength="36.0" lengthAdjust="spacingAndGlyphs" font-size="12" fill="#2962ff">0.3338</text>
<text x="107.5" y="79.6" textLength="35.5" lengthAdjust="spacingAndGlyphs" font-size="12" fill="#f23645">0.3638</text>
<text x="102.0" y="583.7" textLength="29.0" lengthAdjust="spacingAndGlyphs" font-size="12" fill="#7e57c2">40.93</text>
<text x="138.5" y="583.7" textLength="29.5" lengthAdjust="spacingAndGlyphs" font-size="12" fill="#fdd835">38.35</text>
<text x="10.6" y="18.9" textLength="360.5" lengthAdjust="spacingAndGlyphs" font-size="12.5" fill="#131722">ranadagger created with TradingView.com, Oct 24, 2025 14:18 UTC</text>
<rect x="1172.5" y="545" width="24" height="12" fill="#fff"/>
<g fill="none" stroke="#9c27b0" stroke-width="1.5"><path d="M1187.5,542.17 A9.8,9.8 0 1 0 1193.85,548.56"/></g>
<path d="M1187,546.2 L1180.3,551.8 L1184.1,551.8 L1181.1,557 L1188.9,551 L1185.2,551 Z" fill="#9c27b0"/>
<circle cx="1191.5" cy="544.4" r="2.7" fill="#f23645"/>
<g fill="#131722">
<path d="M12,795 H24.3 V810 H17.8 V801.3 H12 Z"/>
<circle cx="28.8" cy="797.9" r="2.9"/>
<path d="M32.6,795 H41.7 L36.3,810 H29.3 Z"/>
<text x="48.5" y="810" font-size="20.6" font-weight="700" textLength="121.5" lengthAdjust="spacingAndGlyphs">TradingView</text>
</g>
</svg></body></html>
